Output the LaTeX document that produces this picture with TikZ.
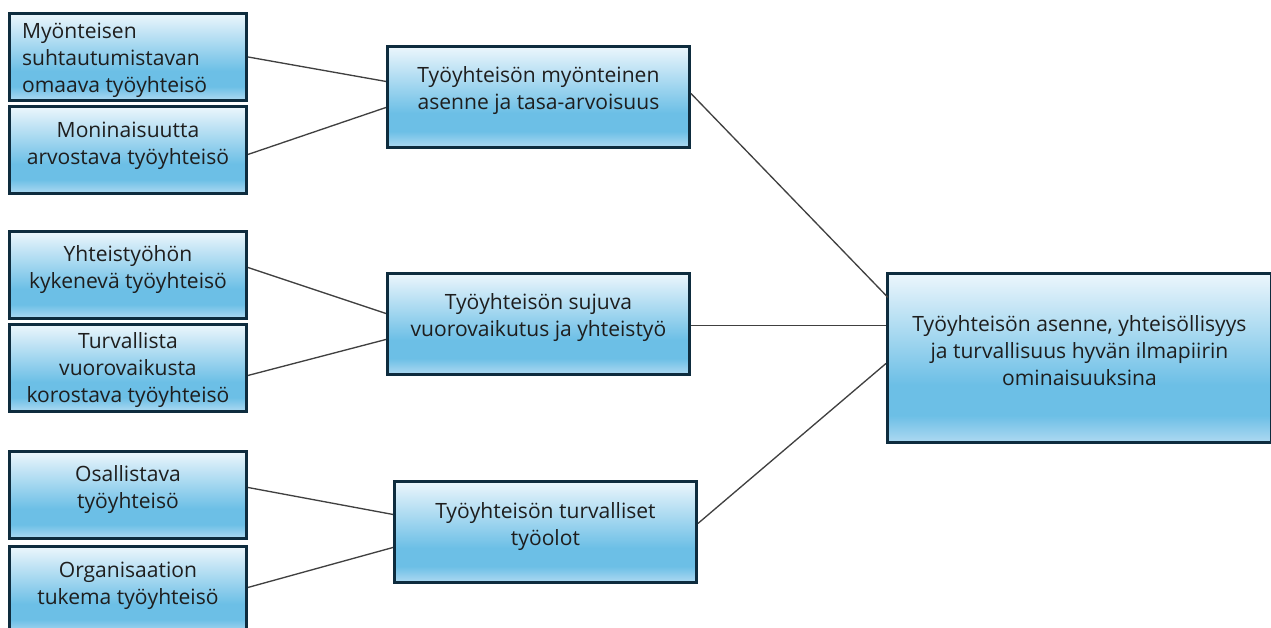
\documentclass[tikz,border=0pt]{standalone}
\usepackage{fontspec}
\setmainfont{Open Sans}
\definecolor{boxedge}{HTML}{0E2C3E}
\definecolor{shadetop}{HTML}{ECF6FC}
\definecolor{shademid}{HTML}{6CBFE6}
\definecolor{shadelow}{HTML}{A6D6F0}
\definecolor{linkgray}{HTML}{404040}
\definecolor{textgray}{HTML}{1E1E1E}
% the node is mapped onto 25bp..75bp of the shading
\pgfdeclareverticalshading{boxshade}{100bp}{%
  color(0bp)=(shadelow); color(26bp)=(shadelow); color(33bp)=(shademid);
  color(42bp)=(shademid); color(75bp)=(shadetop); color(100bp)=(shadetop)}
\tikzset{
  px/.style={x=0.75pt,y=-0.75pt},
  box/.style={draw=boxedge, line width=2.2pt, shading=boxshade, inner sep=0pt,
    text=textgray, align=center, anchor=north west,
    font=\fontsize{15.8}{20.25}\selectfont},
  small/.style={box, minimum width=177.75pt, minimum height=65.25pt},
  mid/.style={box, minimum width=226.5pt, minimum height=75.75pt},
  link/.style={draw=linkgray, line width=1pt},
}
% lines of text, shifted up inside the box while keeping the box extent
\newcommand{\lifted}[3][c]{\raisebox{#2}[\height][\depth]{\begin{tabular}{@{}#1@{}}#3\end{tabular}}}
\begin{document}
\begin{tikzpicture}[px]
\useasboundingbox (0,0) rectangle (1271,628);
\begin{scope}
\clip (0,0) rectangle (1271,628);
% left column
\node[small] (a1) at (8,12)
  {\hspace*{-20pt}\lifted[l]{-2.25pt}{Myönteisen\\suhtautumistavan\\omaava työyhteisö}};
\node[small] (a2) at (8,105) {\lifted{3.4pt}{Moninaisuutta\\arvostava työyhteisö}};
\node[small] (b1) at (8,230) {\lifted{4.1pt}{Yhteistyöhön\\kykenevä työyhteisö}};
\node[small] (b2) at (8,323) {\lifted{-1.5pt}{Turvallista\\vuorovaikusta\\korostava työyhteisö}};
\node[small] (c1) at (8,450) {\lifted{4.1pt}{Osallistava\\työyhteisö}};
\node[small] (c2) at (8,545) {\lifted{3.4pt}{Organisaation\\tukema työyhteisö}};
% middle column
\node[mid] (m1) at (386,45) {\lifted{4.9pt}{Työyhteisön myönteinen\\asenne ja tasa-arvoisuus}};
\node[mid] (m2) at (386,272) {\lifted{4.9pt}{Työyhteisön sujuva\\vuorovaikutus ja yhteistyö}};
\node[mid] (m3) at (393,480) {\lifted{4.1pt}{Työyhteisön turvalliset\\työolot}};
% right
\node[box, minimum width=288pt, minimum height=126.75pt] (r) at (886,272)
  {\lifted{3.75pt}{Työyhteisön asenne, yhteisöllisyys\\ja turvallisuus hyvän ilmapiirin\\ominaisuuksina}};
\end{scope}
% connectors
\draw[link] (a1.east) -- ([shift={(0,-15.5)}]m1.west);
\draw[link] ([shift={(0,4.5)}]a2.east) -- ([shift={(0,10.5)}]m1.west);
\draw[link] ([shift={(0,-3.5)}]m1.east) -- ([shift={(2,-60.5)}]r.west);
\draw[link] ([shift={(0,-7.5)}]b1.east) -- ([shift={(0,-10.5)}]m2.west);
\draw[link] ([shift={(0,7.5)}]b2.east) -- ([shift={(0,15.5)}]m2.west);
\draw[link] ([shift={(0,1.5)}]m2.east) -- ([shift={(0,-32.5)}]r.west);
\draw[link] ([shift={(0,-7.5)}]c1.east) -- ([shift={(0,-17.5)}]m3.west);
\draw[link] ([shift={(0,-2.5)}]c2.east) -- ([shift={(0,15.5)}]m3.west);
\draw[link] ([shift={(0,-8.5)}]m3.east) -- ([shift={(0,5.5)}]r.west);
\end{tikzpicture}
\end{document}
